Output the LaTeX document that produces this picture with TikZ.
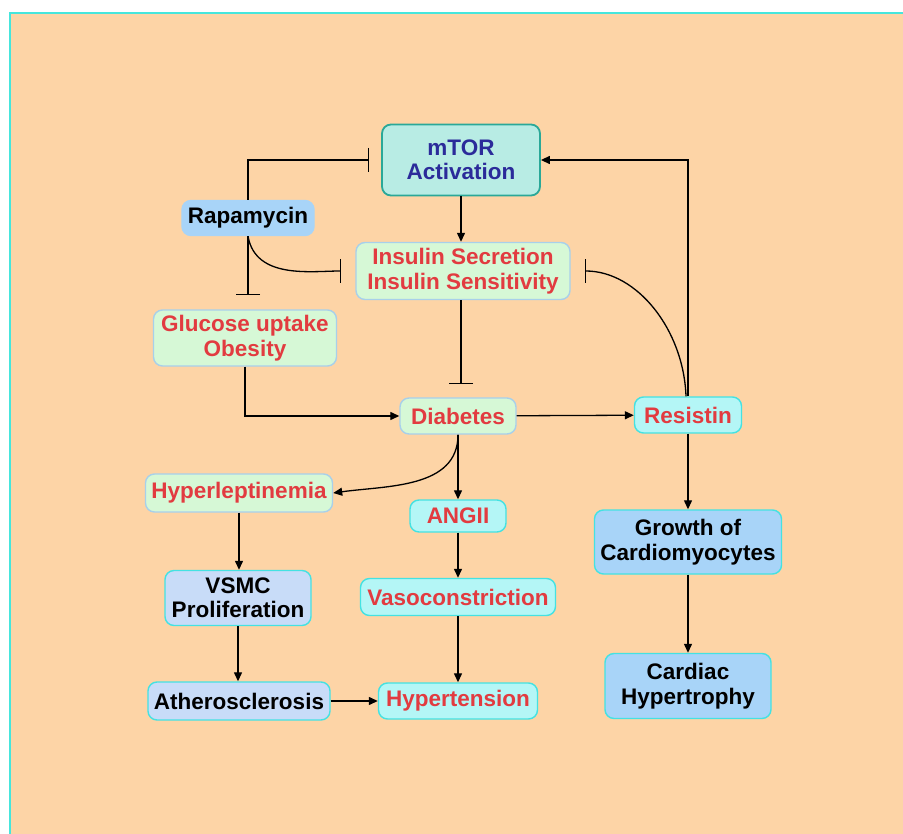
\documentclass[tikz,border=0pt]{standalone}
\usepackage{fontspec}
\setmainfont{Liberation Sans}
\usepackage{tikz}
\usetikzlibrary{arrows.meta,positioning}
\definecolor{peach}{HTML}{FDD4A6}
\definecolor{frame}{HTML}{46E6DC}
\definecolor{redtext}{HTML}{E23B40}
\definecolor{bluetext}{HTML}{2B2B9A}
\definecolor{HTML2}{HTML}{B8ECE4}
\definecolor{HTML3}{HTML}{2AA898}
\definecolor{HTML4}{HTML}{D6F8D6}
\definecolor{HTML5}{HTML}{A8D0EA}
\definecolor{HTML6}{HTML}{B4F6F6}
\definecolor{HTML7}{HTML}{44E2E2}
\definecolor{HTML8}{HTML}{C8DCF8}
\definecolor{HTML9}{HTML}{A8D4F8}
\tikzstyle{box} = [rounded corners=9pt, line width=1.4pt, align=center,
    inner xsep=6pt, inner ysep=2pt, font=\bfseries\fontsize{22.5}{24.5}\selectfont]
\tikzstyle{mtorbox} = [box, fill=HTML2, draw=HTML3, text=bluetext, line width=1.8pt]
\tikzstyle{greenbox} = [box, fill=HTML4, draw=HTML5, text=redtext]
\tikzstyle{cyanbox} = [box, fill=HTML6, draw=HTML7, text=redtext]
\tikzstyle{bluebox} = [box, fill=HTML8, draw=HTML7, text=black]
\tikzstyle{skybox} = [box, fill=HTML9, draw=HTML7, text=black]
\tikzstyle{drugbox} = [box, fill=HTML9, draw=HTML9, text=black]
\tikzstyle{arr} = [line width=1.3pt, -{Triangle[length=9pt,width=8pt]}]
\tikzstyle{inh} = [line width=1.3pt, -{Bar[width=24pt,line width=1.5pt]}]

\begin{document}
\begin{tikzpicture}[x=1pt,y=-1pt]
\useasboundingbox (0,0) rectangle (903,834);
\fill[peach] (10,13) rectangle (906,837);
\draw[frame, line width=2.5pt] (10,837) -- (10,13) -- (906,13);

\node[mtorbox, minimum width=158pt, minimum height=71pt] (mtor) at (461,160) {mTOR\\Activation};
\node[drugbox, minimum width=130pt, minimum height=35pt] (rapa) at (248,218) {Rapamycin};
\node[greenbox, minimum width=214pt, minimum height=57pt] (insulin) at (463,271) {Insulin Secretion\\Insulin Sensitivity};
\node[greenbox, minimum width=183pt, minimum height=56pt] (glucose) at (245,338) {Glucose uptake\\Obesity};
\node[greenbox, minimum width=116pt, minimum height=36pt] (diabetes) at (458,416) {Diabetes};
\node[cyanbox, minimum width=107pt, minimum height=36pt] (resistin) at (688,415) {Resistin};
\node[greenbox, minimum width=185pt, minimum height=38pt] (hyperlep) at (239,493) {Hyperleptinemia};
\node[cyanbox, minimum width=96pt, minimum height=32pt] (angii) at (458,516) {ANGII};
\node[bluebox, minimum width=146pt, minimum height=55pt] (vsmc) at (238,598) {VSMC\\Proliferation};
\node[cyanbox, minimum width=195pt, minimum height=37pt] (vaso) at (458,597) {Vasoconstriction};
\node[bluebox, minimum width=182pt, minimum height=38pt] (athero) at (239,701) {Atherosclerosis};
\node[cyanbox, minimum width=159pt, minimum height=36pt] (hypert) at (458,701) {Hypertension};
\node[skybox, minimum width=181pt, minimum height=64pt] (growth) at (688,542) {Growth of\\Cardiomyocytes};
\node[skybox, minimum width=166pt, minimum height=65pt] (cardiac) at (688,686) {Cardiac\\Hypertrophy};

\draw[arr] (mtor) -- (insulin.north -| mtor);
\draw[arr] (resistin.north) |- (mtor.east);
\draw[inh, shorten >=12pt] (rapa.north) |- (mtor.west);
\draw[inh, shorten >=14pt] (rapa.south) -- (rapa.south |- glucose.north);
\draw[inh, shorten >=14pt] (rapa.south) to[out=-80,in=180] (insulin.west);
\draw[inh, shorten >=13pt] (insulin.south -| mtor) -- (diabetes.north -| mtor);
\draw[arr] (glucose.south) |- (diabetes.west);
\draw[arr] (diabetes) -- (resistin);
\draw[inh, shorten >=14pt] ([xshift=-2pt]resistin.north) to[out=92,in=0] (insulin.east);
\draw[arr] (resistin) -- (growth);
\draw[arr] (growth) -- (cardiac);
\draw[arr] (diabetes.south) to[out=-90,in=8] (hyperlep.east);
\draw[arr] (diabetes) -- (angii);
\draw[arr] (angii) -- (vaso);
\draw[arr] (vaso) -- (hypert);
\draw[arr] (hyperlep) -- (vsmc.north -| hyperlep);
\draw[arr] (vsmc) -- (athero.north -| vsmc);
\draw[arr] (athero) -- (hypert);
\end{tikzpicture}
\end{document}
